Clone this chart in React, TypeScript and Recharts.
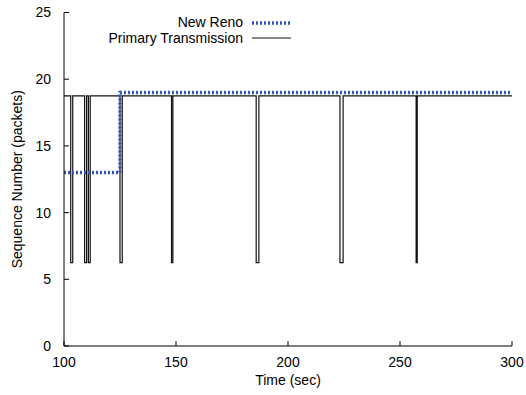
import { LineChart, Line, XAxis, YAxis } from 'recharts';

const FONT = '"Liberation Sans", Arial, sans-serif';

// Primary transmission: flat at one level with short drops
const primaryLevel = 18.75;
const primaryDropLevel = 6.25;
const dropStart = [103.0, 109.2, 110.9, 125.0, 148.0, 185.8, 223.2, 257.2];
const dropEnd = [103.9, 110.1, 111.7, 126.0, 148.6, 187.0, 224.6, 257.7];

// New Reno step
const renoTime = [100, 125, 125, 300];
const renoSeq = [13, 13, 19, 19];

const xTicks = [100, 150, 200, 250, 300];
const yTicks = [0, 5, 10, 15, 20, 25];

const primaryData = (() => {
  const pts = [{ t: 100, seq: primaryLevel }];
  dropStart.forEach((s, i) => {
    pts.push({ t: s, seq: primaryLevel });
    pts.push({ t: s, seq: primaryDropLevel });
    pts.push({ t: dropEnd[i], seq: primaryDropLevel });
    pts.push({ t: dropEnd[i], seq: primaryLevel });
  });
  pts.push({ t: 300, seq: primaryLevel });
  return pts;
})();

const renoData = renoTime.map((t, i) => ({ t, seq: renoSeq[i] }));

const tickStyle = { fontFamily: FONT, fontSize: 14, fill: '#000' };

export default function App() {
  return (
    <div style={{ position: 'absolute', left: 0, top: 0, width: 526, height: 395, background: '#fff' }}>
      <LineChart width={526} height={395} margin={{ top: 12.5, right: 14, bottom: 10, left: 14 }}>
        <XAxis
          xAxisId="b"
          dataKey="t"
          type="number"
          domain={[100, 300]}
          ticks={xTicks}
          allowDataOverflow
          height={39}
          stroke="#000"
          tickSize={-5}
          tickMargin={16}
          tick={tickStyle}
          label={{ value: 'Time (sec)', position: 'insideBottom', offset: 0, style: tickStyle }}
        />
        <XAxis
          xAxisId="t"
          orientation="top"
          type="number"
          domain={[100, 300]}
          ticks={xTicks}
          allowDataOverflow
          height={0}
          stroke="#000"
          tickSize={-5}
          tickFormatter={() => ''}
        />
        <YAxis
          yAxisId="l"
          type="number"
          domain={[0, 25]}
          ticks={yTicks}
          allowDataOverflow
          width={50}
          stroke="#000"
          tickSize={-5}
          tickMargin={18}
          tick={tickStyle}
          label={{
            content: ({ viewBox }: any) => {
              const cy = viewBox.y + viewBox.height / 2;
              return (
                <text
                  x={22}
                  y={cy}
                  transform={`rotate(-90, 22, ${cy})`}
                  textAnchor="middle"
                  style={tickStyle}
                >
                  Sequence Number (packets)
                </text>
              );
            },
          }}
        />
        <YAxis
          yAxisId="r"
          orientation="right"
          type="number"
          domain={[0, 25]}
          ticks={yTicks}
          allowDataOverflow
          width={0}
          stroke="#000"
          tickSize={-5}
          tickFormatter={() => ''}
        />
        <Line
          xAxisId="b"
          yAxisId="l"
          data={primaryData}
          dataKey="seq"
          type="linear"
          stroke="#111"
          strokeWidth={1.2}
          dot={false}
          isAnimationActive={false}
        />
        <Line
          xAxisId="b"
          yAxisId="l"
          data={renoData}
          dataKey="seq"
          type="linear"
          stroke="#3557b7"
          strokeWidth={3.5}
          strokeDasharray="2 2"
          dot={false}
          isAnimationActive={false}
        />
      </LineChart>
      <svg width={526} height={60} style={{ position: 'absolute', left: 0, top: 0, pointerEvents: 'none' }}>
        <text x={243} y={27} textAnchor="end" style={tickStyle}>New Reno</text>
        <line x1={252} x2={290} y1={23} y2={23} stroke="#3557b7" strokeWidth={3.5} strokeDasharray="2 2" />
        <text x={243} y={43} textAnchor="end" style={tickStyle}>Primary Transmission</text>
        <line x1={252} x2={291} y1={38} y2={38} stroke="#111" strokeWidth={1.2} />
      </svg>
    </div>
  );
}
